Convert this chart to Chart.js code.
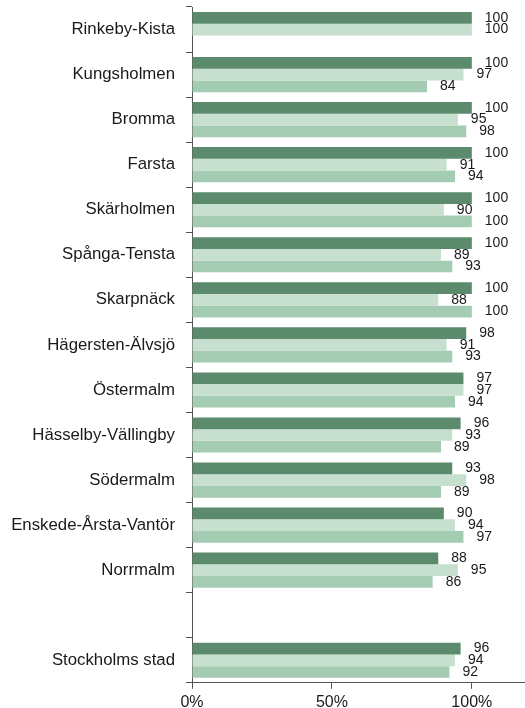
<!DOCTYPE html>
<html lang="sv">
<head>
    <meta charset="UTF-8">
    <title>Stockholm stadsdelar</title>
    <script src="https://cdn.jsdelivr.net/npm/chart.js"></script>
    <style>
        html, body {
            margin: 0;
            padding: 0;
            background: #ffffff;
            overflow: hidden;
        }
        .chart-box {
            width: 525px;
            height: 716px;
        }
    </style>
</head>
<body>
    <div class="chart-box">
        <canvas id="chart"></canvas>
    </div>

    <script>
        const categories = [
            'Rinkeby-Kista', 'Kungsholmen', 'Bromma', 'Farsta', 'Skärholmen',
            'Spånga-Tensta', 'Skarpnäck', 'Hägersten-Älvsjö', 'Östermalm',
            'Hässelby-Vällingby', 'Södermalm', 'Enskede-Årsta-Vantör', 'Norrmalm',
            '', 'Stockholms stad'
        ];
        const series1 = [100, 100, 100, 100, 100, 100, 100, 98, 97, 96, 93, 90, 88, null, 96];
        const series2 = [100, 97, 95, 91, 90, 89, 88, 91, 97, 93, 98, 94, 95, null, 94];
        const series3 = [null, 84, 98, 94, 100, 93, 100, 93, 94, 89, 89, 97, 86, null, 92];
        const xTicks = [0, 50, 100];

        const colors = ['#5b8b6c', '#c6dfcf', '#a4ccb2'];

        // numbers to the right of each bar
        const valueLabels = {
            id: 'valueLabels',
            afterDatasetsDraw(chart) {
                const ctx = chart.ctx;
                ctx.save();
                ctx.font = '14px Arial, "Liberation Sans", sans-serif';
                ctx.fillStyle = '#1a1a1a';
                ctx.textAlign = 'left';
                ctx.textBaseline = 'middle';
                chart.data.datasets.forEach((ds, i) => {
                    chart.getDatasetMeta(i).data.forEach((bar, j) => {
                        const v = ds.data[j];
                        if (v === null || v === undefined) return;
                        ctx.fillText(String(v), bar.x + 13, bar.y);
                    });
                });
                ctx.restore();
            }
        };

        new Chart(document.getElementById('chart'), {
            type: 'bar',
            data: {
                labels: categories,
                datasets: [series1, series2, series3].map((d, i) => ({
                    data: d,
                    backgroundColor: colors[i],
                    borderWidth: 0,
                    categoryPercentage: 0.78,
                    barPercentage: 1.0
                }))
            },
            options: {
                indexAxis: 'y',
                responsive: true,
                maintainAspectRatio: false,
                animation: false,
                layout: { padding: { top: 7, right: 0, left: 0, bottom: 0 } },
                plugins: {
                    legend: { display: false },
                    tooltip: { enabled: false }
                },
                scales: {
                    x: {
                        min: 0,
                        max: 119,
                        afterBuildTicks: (s) => { s.ticks = xTicks.map(v => ({ value: v })); },
                        ticks: {
                            callback: (v) => v + '%',
                            color: '#1a1a1a',
                            font: { family: 'Arial, "Liberation Sans", sans-serif', size: 16 },
                            padding: 4,
                            maxRotation: 0
                        },
                        grid: {
                            drawOnChartArea: false,
                            drawTicks: true,
                            tickLength: 6,
                            color: '#555555'
                        },
                        border: { color: '#555555', width: 1 }
                    },
                    y: {
                        afterFit: (s) => {
                            s.width = 192;
                            s.paddingTop = 0;
                            s.paddingBottom = 0;
                        },
                        ticks: {
                            color: '#1a1a1a',
                            font: { family: 'Arial, "Liberation Sans", sans-serif', size: 16.8 },
                            padding: 11,
                            autoSkip: false
                        },
                        grid: {
                            offset: true,
                            drawOnChartArea: false,
                            drawTicks: true,
                            tickLength: 6,
                            color: '#555555'
                        },
                        border: { color: '#555555', width: 1 }
                    }
                }
            },
            plugins: [valueLabels]
        });
    </script>
</body>
</html>
